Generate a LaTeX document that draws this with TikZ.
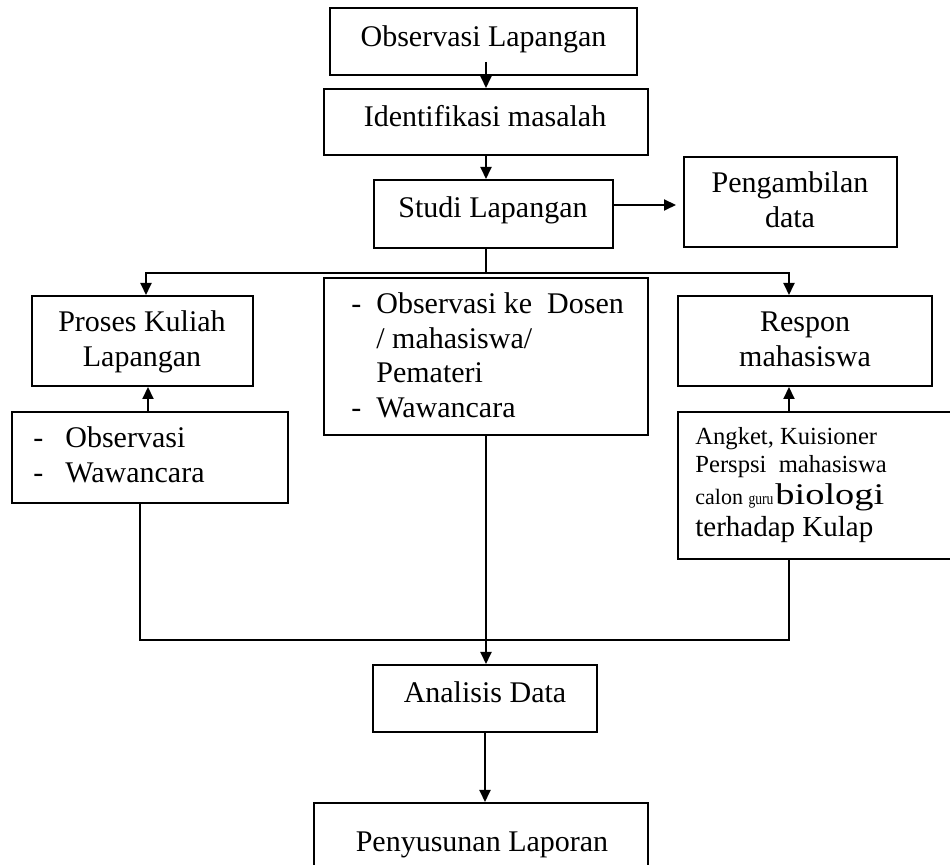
\documentclass[tikz,border=0pt]{standalone}
\usepackage{fontspec}
\setmainfont{Liberation Serif}
\usepackage{graphicx}
\usetikzlibrary{arrows.meta,calc}
\begin{document}
\begin{tikzpicture}[x=0.5pt,y=-0.5pt,
  box/.style={draw,line width=1pt,inner sep=0pt,rectangle},
  lbl/.style={inner sep=0pt,anchor=base,font=\fontsize{15pt}{17.25pt}\selectfont},
  lft/.style={inner sep=0pt,anchor=base west},
  arr/.style={line width=1pt,-{Triangle[length=6pt,width=5.5pt]}},
  ln/.style={line width=1pt}]
\useasboundingbox (0,0) rectangle (950,865);
\fill[white] (0,0) rectangle (950,865);
\clip (0,0) rectangle (950,865);
% boxes
\node[box,minimum width=153.5pt,minimum height=33.5pt] (b1) at (483.5,41.5) {};
\node[box,minimum width=162pt,minimum height=33pt] (b2) at (486,122) {};
\node[box,minimum width=119.5pt,minimum height=34pt] (b3) at (493.5,214) {};
\node[box,minimum width=106.5pt,minimum height=45pt] (bP) at (790.5,202) {};
\node[box,minimum width=110.5pt,minimum height=45pt] (bK) at (142.5,341) {};
\node[box,minimum width=162pt,minimum height=78.5pt] (bM) at (486,356.5) {};
\node[box,minimum width=127pt,minimum height=45pt] (bR) at (805,341) {};
\node[box,minimum width=138pt,minimum height=45.5pt] (bO) at (150,457.5) {};
\node[box,minimum width=141pt,minimum height=73.5pt] (bA) at (819,485.5) {};
\node[box,minimum width=112pt,minimum height=33.5pt] (bD) at (485,698.5) {};
\node[box,minimum width=167pt,minimum height=38.5pt] (bL) at (481,841.5) {};
% texts
\node[lbl] (t1) at (483.5,47) {Observasi Lapangan};
\node[lbl] (t2) at (485,127) {Identifikasi masalah};
\node[lbl] (t3) at (493,218) {Studi Lapangan};
\node[lbl] (tP) at (790,193) {\begin{tabular}[t]{@{}c@{}}Pengambilan\\data\end{tabular}};
\node[lbl] (tK) at (142,332) {\begin{tabular}[t]{@{}c@{}}Proses Kuliah\\Lapangan\end{tabular}};
\node[lbl] (tR) at (805,332) {\begin{tabular}[t]{@{}c@{}}Respon\\mahasiswa\end{tabular}};
\node[lbl,anchor=base west] (tM) at (351,314) {\begin{tabular}[t]{@{}p{12.5pt}@{}l@{}}-&Observasi ke\ \ Dosen\\ &/ mahasiswa/\\ &Pemateri\\-&Wawancara\end{tabular}};
\node[lbl,anchor=base west] (tO) at (33,448) {\begin{tabular}[t]{@{}p{16pt}@{}l@{}}-&Observasi\\-&Wawancara\end{tabular}};
\node[lft,font=\fontsize{12.3pt}{14pt}\selectfont] (tA1) at (695,445) {Angket, Kuisioner};
\node[lft,font=\fontsize{12.3pt}{14pt}\selectfont] (tA2) at (695,473) {Perspsi\ \ mahasiswa};
\node[lft,font=\fontsize{11pt}{13pt}\selectfont] (tA3) at (695,505) {calon \scalebox{0.8}[1]{\fontsize{8.5pt}{9pt}\selectfont guru}\hspace{1pt}\scalebox{1.28}[1]{\fontsize{15pt}{16pt}\selectfont biologi}};
\node[lft,font=\fontsize{14.5pt}{16pt}\selectfont] (tA4) at (695,537) {terhadap Kulap};
\node[lbl] (tD) at (485,703) {Analisis Data};
\node[lbl] (tL) at (482,852) {Penyusunan Laporan};
% connectors
\coordinate (c1) at (486,62);
\draw[arr] (c1) -- (c1 |- b2.north);
\draw[arr] (b2.south) -- (b2.south |- b3.north);
\draw[arr] ([yshift=4.5pt]b3.east) -- ([xshift=-3.5pt,yshift=-1.5pt]bP.west);
\coordinate (j1) at (486,273);
\draw[ln] (b2.south |- b3.south) -- (j1);
\draw[arr] (j1) -| ([xshift=1.75pt]bK.north);
\draw[arr] (j1) -| ([xshift=-8pt]bR.north);
\draw[arr] ([xshift=-1pt]bO.north) -- ([xshift=-1pt]bO.north |- bK.south);
\draw[arr] ([xshift=-15pt]bA.north) -- ([xshift=-15pt]bA.north |- bR.south);
\coordinate (j2) at (486,640);
\draw[ln] ([xshift=-5pt]bO.south) |- (j2) -| ([xshift=-15pt]bA.south);
\draw[arr] (bM.south) -- (bM.south |- bD.north);
\draw[arr] (bD.south) -- (bD.south |- bL.north);
\end{tikzpicture}
\end{document}
